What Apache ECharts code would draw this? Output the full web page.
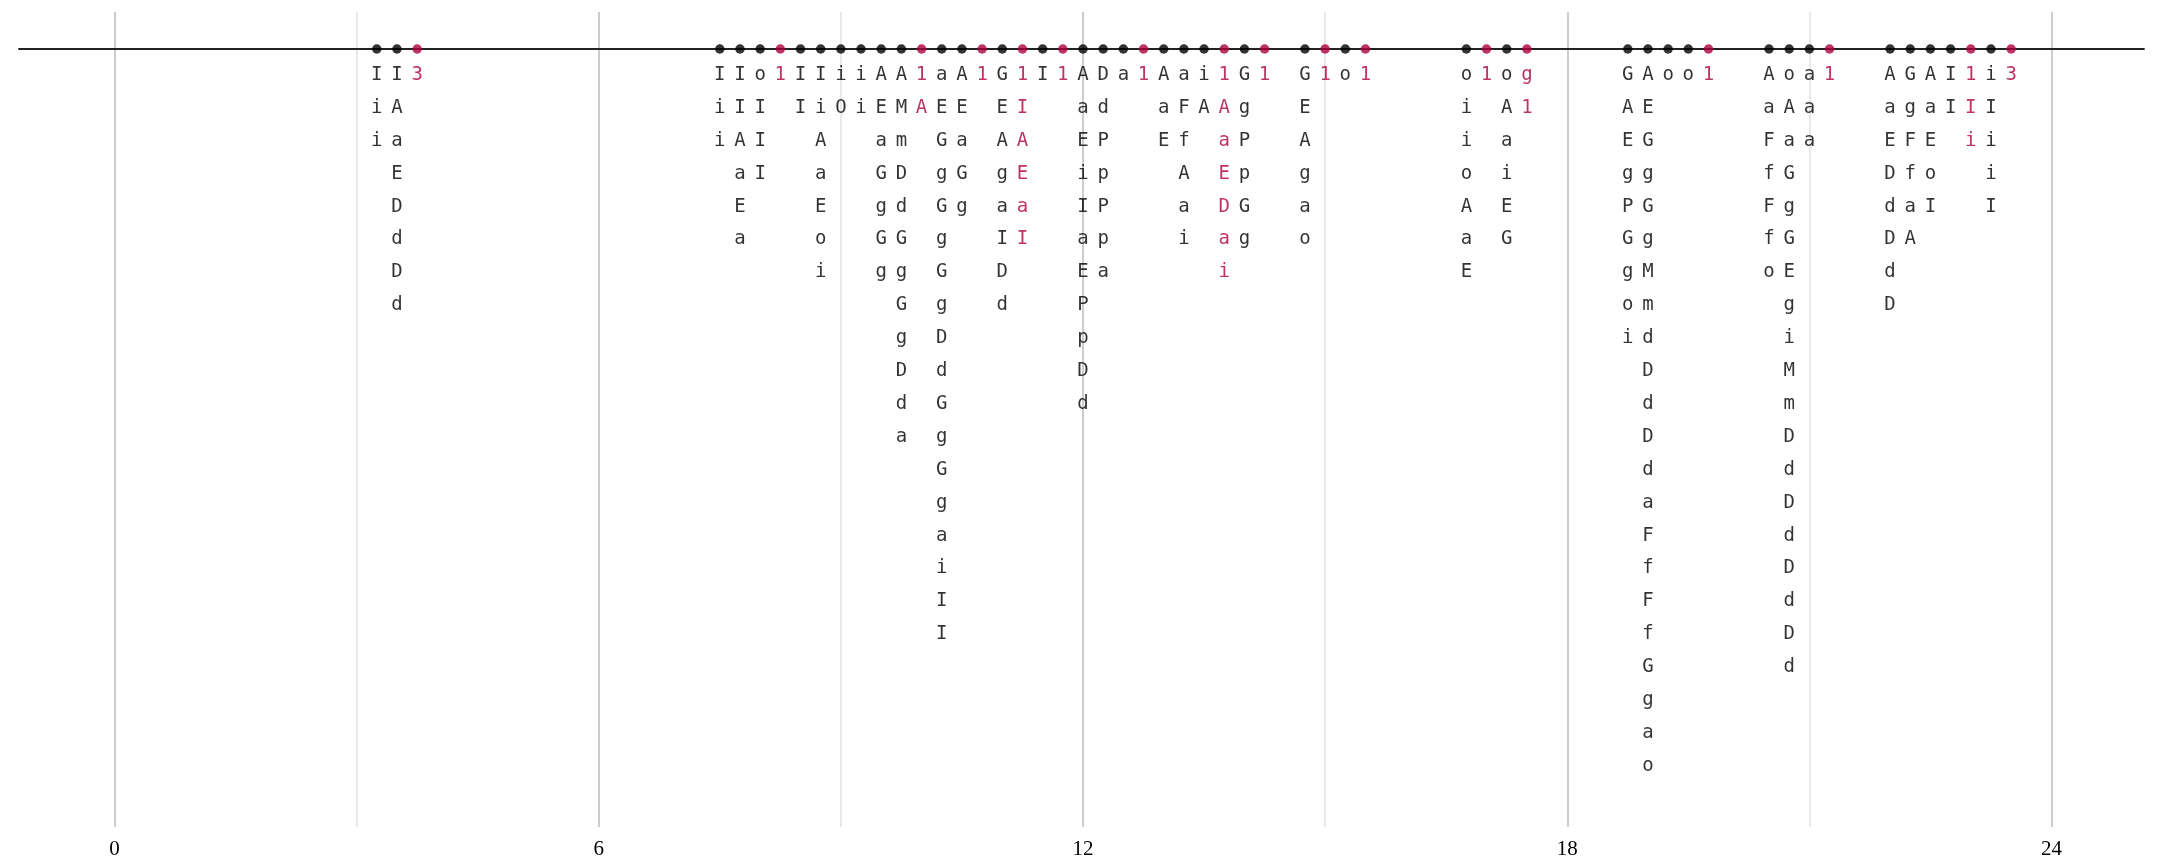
<!DOCTYPE html>
<html>
<head>
<meta charset="utf-8">
<script src="https://cdn.jsdelivr.net/npm/echarts@6/dist/echarts.min.js"></script>
<style>html,body{margin:0;padding:0;background:#fff;}#c{width:2160px;height:864px;}</style>
</head>
<body>
<div id="c"></div>
<script>
// Hour of day of each entry (quarter-hour slots)
const times = [3.25,3.5,3.75,7.5,7.75,8.0,8.25,8.5,8.75,9.0,9.25,9.5,9.75,10.0,10.25,10.5,10.75,11.0,11.25,11.5,11.75,12.0,12.25,12.5,12.75,13.0,13.25,13.5,13.75,14.0,14.25,14.75,15.0,15.25,15.5,16.75,17.0,17.25,17.5,18.75,19.0,19.25,19.5,19.75,20.5,20.75,21.0,21.25,22.0,22.25,22.5,22.75,23.0,23.25,23.5];
// Text of each entry, written downward
const texts = ["Iii","IAaEDdDd","3","Iii","IIAaEa","oIII","1","II","IiAaEoi","iO","ii","AEaGgGg","AMmDdGgGgDda","1A","aEGgGgGgDdGgGgaiII","AEaGg","1","GEAgaIDd","1IAEaI","I","1","AaEiIaEPpDd","DdPpPpa","a","1","AaE","aFfAai","iA","1AaEDai","GgPpGg","1","GEAgao","1","o","1","oiioAaE","1","oAaiEG","g1","GAEgPGgoi","AEGgGgMmdDdDdaFfFfGgao","o","o","1","AaFfFfo","oAaGgGEgiMmDdDdDdDd","aaa","1","AaEDdDdD","GgFfaA","AaEoI","II","1Ii","iIiiI","3"];
// Highlighted entries (1 = red)
const highlight = [0,0,1,0,0,0,1,0,0,0,0,0,0,1,0,0,1,0,1,0,1,0,0,0,1,0,0,0,1,0,1,0,1,0,1,0,1,0,1,0,0,0,0,1,0,0,0,1,0,0,0,0,1,0,1];
// Axis tick labels
const tickValues = [0,6,12,18,24];

const RED = '#ad0040', BLACK = '#000';
const dots = times.map((t,i)=>({value:[t,0], itemStyle:{color: highlight[i]?RED:BLACK}}));
const chars = [];
times.forEach((t,i)=>{
  const s = texts[i];
  for (let k=0;k<s.length;k++){
    chars.push({value:[t, 0.79+k], name:s[k], label:{color: highlight[i]?RED:'#000'}});
  }
});

const chart = echarts.init(document.getElementById('c'), null, {renderer:'canvas'});
chart.setOption({
  animation:false,
  backgroundColor:'#fff',
  grid:[
    {left:114.5, right:108.5, top:12, bottom:37},
    {left:19, right:16, top:48, height:1}
  ],
  xAxis:[
    {gridIndex:0, type:'value', min:0, max:24, interval:3,
     axisLine:{show:false}, axisTick:{show:false},
     splitLine:{show:true, showMinLine:true, showMaxLine:true, lineStyle:{color:['#bdbdbd','#e2e2e2'], width:1.5}},
     axisLabel:{margin:12, fontFamily:'Liberation Serif', fontSize:21, color:'#000',
       formatter:(v)=> tickValues.includes(v)? String(v):''}},
    {gridIndex:1, type:'value', min:0, max:1, position:'top',
     axisLine:{show:true, lineStyle:{color:'#222', width:1.8}}, axisTick:{show:false}, axisLabel:{show:false}, splitLine:{show:false}}
  ],
  yAxis:[
    {gridIndex:0, type:'value', inverse:true, min:-1.125, max:23.647, show:false},
    {gridIndex:1, type:'value', show:false}
  ],
  series:[
    {type:'scatter', xAxisIndex:0, yAxisIndex:0, symbol:'circle', symbolSize:9.5, z:5, data:dots, silent:true},
    {type:'scatter', xAxisIndex:0, yAxisIndex:0, symbolSize:0, z:6, silent:true,
     label:{show:true, position:'inside', formatter:(p)=>p.name, fontFamily:'DejaVu Sans Mono', fontSize:19},
     data:chars}
  ]
});
</script>
</body>
</html>
